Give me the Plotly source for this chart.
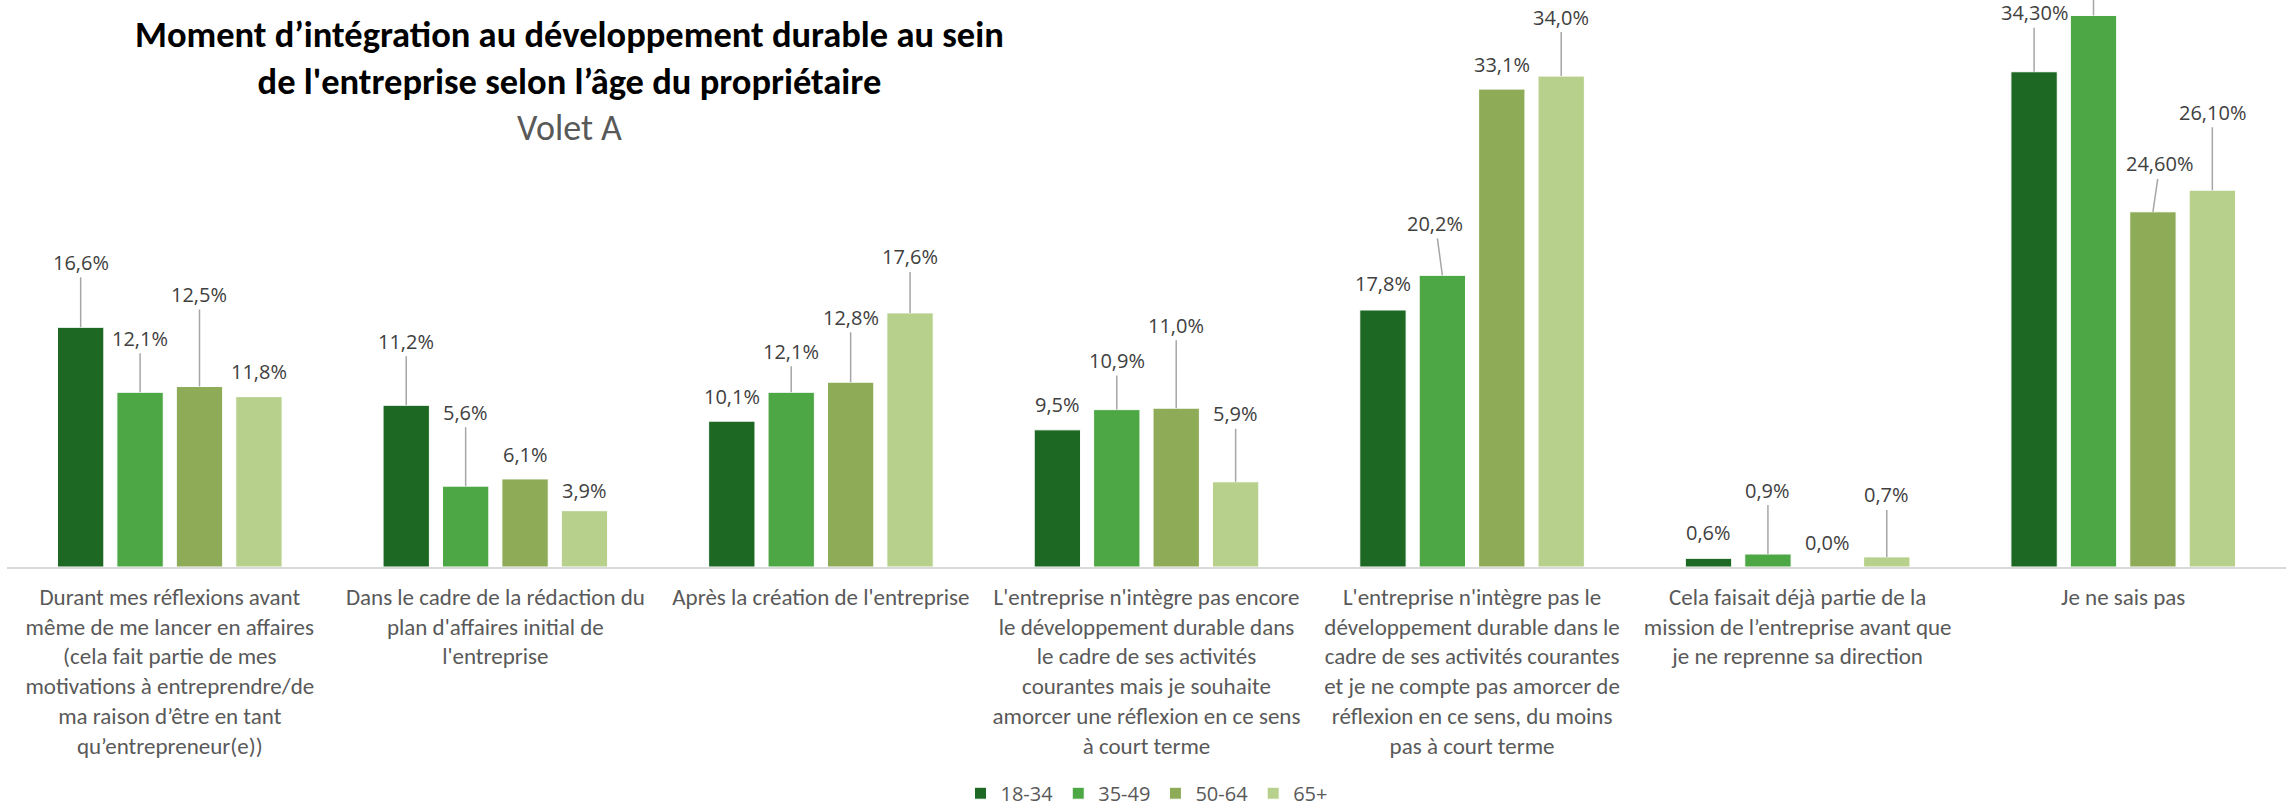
import plotly.graph_objects as go

# Survey answers (x axis) and share of owners per age group (%)
categories = [
    "Durant mes réflexions avant<br>même de me lancer en affaires<br>(cela fait partie de mes<br>motivations à entreprendre/de<br>ma raison d’être en tant<br>qu’entrepreneur(e))",
    "Dans le cadre de la rédaction du<br>plan d'affaires initial de<br>l'entreprise",
    "Après la création de l'entreprise",
    "L'entreprise n'intègre pas encore<br>le développement durable dans<br>le cadre de ses activités<br>courantes mais je souhaite<br>amorcer une réflexion en ce sens<br>à court terme",
    "L'entreprise n'intègre pas le<br>développement durable dans le<br>cadre de ses activités courantes<br>et je ne compte pas amorcer de<br>réflexion en ce sens, du moins<br>pas à court terme",
    "Cela faisait déjà partie de la<br>mission de l’entreprise avant que<br>je ne reprenne sa direction",
    "Je ne sais pas",
]
age_groups = ["18-34", "35-49", "50-64", "65+"]
values_18_34 = [16.6, 11.2, 10.1, 9.5, 17.8, 0.6, 34.3]
values_35_49 = [12.1, 5.6, 12.1, 10.9, 20.2, 0.9, 38.2]
values_50_64 = [12.5, 6.1, 12.8, 11.0, 33.1, 0.0, 24.6]
values_65_plus = [11.8, 3.9, 17.6, 5.9, 34.0, 0.7, 26.1]
label_decimals = [1, 1, 1, 1, 1, 1, 2]

series = [values_18_34, values_35_49, values_50_64, values_65_plus]
colors = ["#1d6823", "#4ca744", "#8eac58", "#b7d18c"]

# Data-label placement (pixel offset above each bar top, per category and series)
label_dy = [
    [-65, -54, -92, -25],
    [-64, -74, -24, -20],
    [-25, -41, -65, -56],
    [-25, -49, -83, -68],
    [-26, -52, -25, -59],
    [-26, -64, -25, -62],
    [-59, -60, -48, -78],
]
label_dx = {(4, 1): -7, (6, 2): 7}
# labels whose text sits beyond the top edge of the figure (only the leader stub shows)
clipped_labels = {(6, 1)}

BARGAP = 0.27
BARGROUPGAP = 0.22
slot = (1 - BARGAP) / len(age_groups)

LABEL_FONT = "Open Sans, Noto Sans, sans-serif"
NARROW = "Carlito, Liberation Sans Narrow, DejaVu Sans Condensed, sans-serif"
label_font = dict(family=LABEL_FONT, size=20, color="#404040")
LEADER = dict(color="#a6a6a6", width=1.5)

fig = go.Figure()
for name, vals, col in zip(age_groups, series, colors):
    fig.add_trace(go.Bar(
        name=name, x=categories, y=vals,
        marker=dict(color=col, line=dict(color="#ffffff", width=1)),
    ))

annotations = []
shapes = []
for i in range(len(categories)):
    for j, vals in enumerate(series):
        v = vals[i]
        txt = f"{v:.{label_decimals[i]}f}".replace(".", ",") + "%"
        xpos = i + (j - 1.5) * slot
        dy = label_dy[i][j]
        dx = label_dx.get((i, j), 0)
        if (i, j) in clipped_labels:
            shapes.append(dict(
                type="line", xref="x", yref="y", ysizemode="pixel", yanchor=v,
                x0=xpos, x1=xpos, y0=0, y1=-dy, line=LEADER,
            ))
            annotations.append(dict(
                x=xpos, y=v, xref="x", yref="y", text=txt, font=label_font,
                showarrow=False, yanchor="middle", yshift=-dy,
            ))
        elif abs(dy) > 35:
            annotations.append(dict(
                x=xpos, y=v, xref="x", yref="y", text=txt, font=label_font,
                showarrow=True, arrowhead=0, arrowwidth=LEADER["width"],
                arrowcolor=LEADER["color"], ax=dx, ay=dy, standoff=0,
            ))
        else:
            annotations.append(dict(
                x=xpos, y=v, xref="x", yref="y", text=txt, font=label_font,
                showarrow=False, yanchor="middle", yshift=-dy, xshift=dx,
            ))

# Title block
annotations.append(dict(
    xref="paper", yref="paper", x=0.247, y=0.897, xanchor="center", yanchor="middle",
    text="<b>Moment d’intégration au développement durable au sein<br>de l'entreprise selon l’âge du propriétaire</b>",
    showarrow=False, font=dict(family=NARROW, size=36.5, color="#000000"),
))
annotations.append(dict(
    xref="paper", yref="paper", x=0.247, y=0.774, xanchor="center", yanchor="middle",
    text="Volet A", showarrow=False, font=dict(family=NARROW, size=36, color="#595959"),
))

fig.update_layout(
    width=2290, height=808,
    margin=dict(l=7, r=4, t=0, b=241, autoexpand=False),
    paper_bgcolor="white", plot_bgcolor="white",
    barmode="group", bargap=BARGAP, bargroupgap=BARGROUPGAP,
    showlegend=True,
    legend=dict(orientation="h", x=0.5, xanchor="center", y=-0.399, yanchor="middle",
                font=dict(family=LABEL_FONT, size=20, color="#595959"),
                traceorder="normal"),
    annotations=annotations,
    shapes=shapes,
    xaxis=dict(showline=True, linecolor="#d9d9d9", linewidth=2, ticks="",
               showgrid=False, ticklabelstandoff=8, tickangle=0, automargin=False,
               tickfont=dict(family=NARROW, size=23, color="#595959")),
    yaxis=dict(range=[0, 39.27], visible=False, showgrid=False, zeroline=False,
               automargin=False),
)

fig.write_html("out.html")
